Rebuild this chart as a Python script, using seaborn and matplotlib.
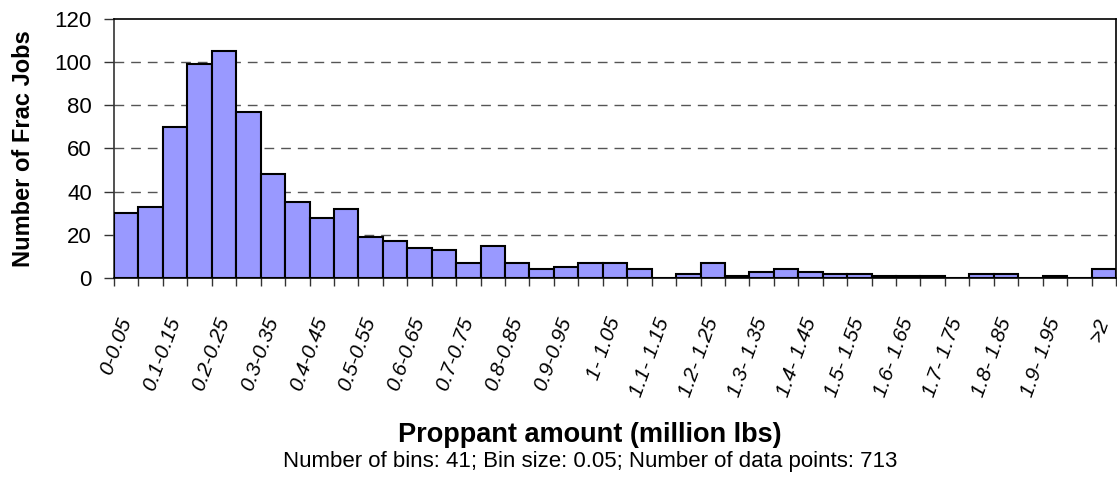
import matplotlib
matplotlib.use("Agg")
import matplotlib.pyplot as plt
import seaborn as sns
import pandas as pd
import numpy as np

# ---- data ----
bin_labels = [
    "0-0.05", "0.05-0.1", "0.1-0.15", "0.15-0.2", "0.2-0.25", "0.25-0.3",
    "0.3-0.35", "0.35-0.4", "0.4-0.45", "0.45-0.5", "0.5-0.55", "0.55-0.6",
    "0.6-0.65", "0.65-0.7", "0.7-0.75", "0.75-0.8", "0.8-0.85", "0.85-0.9",
    "0.9-0.95", "0.95-1", "1- 1.05", "1.05- 1.1", "1.1- 1.15", "1.15- 1.2",
    "1.2- 1.25", "1.25- 1.3", "1.3- 1.35", "1.35- 1.4", "1.4- 1.45", "1.45- 1.5",
    "1.5- 1.55", "1.55- 1.6", "1.6- 1.65", "1.65- 1.7", "1.7- 1.75", "1.75- 1.8",
    "1.8- 1.85", "1.85- 1.9", "1.9- 1.95", "1.95- 2", ">2",
]
counts = [
    30, 33, 70, 99, 105, 77, 48, 35, 28, 32,
    19, 17, 14, 13, 7, 15, 7, 4, 5, 7,
    7, 4, 0, 2, 7, 1, 3, 4, 3, 2,
    2, 1, 1, 1, 0, 2, 2, 0, 1, 0,
    4,
]
y_ticks = [0, 20, 40, 60, 80, 100, 120]

xlabel = "Proppant amount (million lbs)"
ylabel = "Number of Frac Jobs"
subtitle = "Number of bins: 41; Bin size: 0.05; Number of data points: 713"

# ---- plot ----
sns.set_style("white")
plt.rcParams["font.family"] = ["Liberation Sans", "DejaVu Sans"]
plt.rcParams["text.color"] = "black"
plt.rcParams["xtick.color"] = "black"
plt.rcParams["ytick.color"] = "black"
plt.rcParams["axes.labelcolor"] = "black"

fig = plt.figure(figsize=(11.17, 4.84), dpi=100)
ax = fig.add_axes([114 / 1117, 1 - 278 / 484, (1116 - 114) / 1117, (278 - 19) / 484])

df = pd.DataFrame({"bin": bin_labels, "count": counts})
sns.barplot(data=df, x="bin", y="count", order=bin_labels, color="#9999FF",
            saturation=1, edgecolor="black", linewidth=1.5, width=1.0, ax=ax, zorder=3)

ax.set_ylim(0, 120)
ax.set_xlim(-0.5, len(bin_labels) - 0.5)
ax.set_yticks(y_ticks)
ax.set_yticklabels([str(v) for v in y_ticks], fontsize=16, color="black")

# grid lines (dashed) at interior ticks
for v in y_ticks[1:-1]:
    ax.axhline(v, color="#555555", linewidth=1.0, linestyle=(0, (7, 5)), zorder=1)

# x ticks: tick marks at bin boundaries, labels on every other bin
ax.set_xticks(np.arange(-0.5, len(bin_labels), 1.0), minor=True)
major_pos = list(range(0, len(bin_labels), 2))
ax.set_xticks(major_pos)
ax.set_xticklabels([bin_labels[i] for i in major_pos], fontsize=15, style="italic",
                   color="black", rotation=70, ha="right", va="center",
                   rotation_mode="anchor")
ax.tick_params(axis="x", which="major", length=0, pad=29)
ax.tick_params(axis="x", which="minor", length=6, width=1, color="#333333",
               direction="out", bottom=True)
ax.tick_params(axis="y", which="major", length=7, width=1, color="#333333",
               direction="out", left=True, pad=9)

for side in ["left", "bottom", "top", "right"]:
    ax.spines[side].set_visible(True)
    ax.spines[side].set_color("black")
    ax.spines[side].set_linewidth(1.2)
ax.spines["left"].set_color("#333333")

ax.set_xlabel("")
ax.set_ylabel("")

fig.text(0.0206, 0.692, ylabel, rotation=90, ha="center", va="center",
         fontsize=17, fontweight="bold", color="black")
fig.text(0.528, 1 - 442 / 484, xlabel, ha="center", va="baseline",
         fontsize=19.5, fontweight="bold", color="black")
fig.text(0.528, 1 - 467 / 484, subtitle, ha="center", va="baseline",
         fontsize=16, color="black")

fig.savefig("out.png", dpi=100)
